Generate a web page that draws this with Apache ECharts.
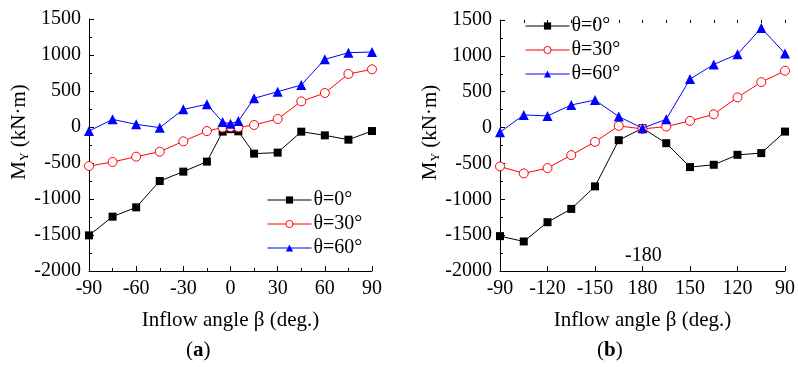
<!DOCTYPE html>
<html><head><meta charset="utf-8">
<script src="https://cdn.jsdelivr.net/npm/echarts@6/dist/echarts.min.js"></script>
<style>html,body{margin:0;padding:0;background:#fff}#c{width:798px;height:367px}</style>
</head><body><div id="c"></div>
<script>
// ---- data ----
const anglesA = [-90,-75,-60,-45,-30,-15,-5,0,5,15,30,45,60,75,90];
const a_t0  = [-1505,-1245,-1116,-750,-620,-481,-64,-30,-60,-370,-356,-65,-116,-176,-56];
const a_t30 = [-542,-486,-412,-343,-199,-56,-8,0,-5,28,111,356,472,736,801];
const a_t60 = [-56,106,37,-9,245,315,69,45,83,398,491,583,940,1032,1042];

const catsB = ['-90','-105','-120','-135','-150','-165','180','165','150','135','120','105','90'];
const b_t0  = [-1514,-1588,-1320,-1134,-820,-176,-9,-218,-551,-519,-380,-356,-56];
const b_t30 = [-542,-639,-565,-384,-199,23,-19,14,93,185,421,634,792];
const b_t60 = [-65,176,162,315,384,153,-9,116,676,880,1023,1389,1032];

const yTicksMin = -2000, yTicksMax = 1500, yStep = 500;
const names = ['θ=0°','θ=30°','θ=60°'];

// ---- styles ----
const F = "'Liberation Serif','Times New Roman',serif";
const FS = 20;
const FN = 21;
const axisLine = {show:true, onZero:false, lineStyle:{color:'#000', width:1}};
const colors = ['#000000','#ff0000','#0000ff'];

function yAxis(gridIndex){
  return {
    type:'value', gridIndex, min:yTicksMin, max:yTicksMax, interval:yStep,
    axisLine, splitLine:{show:false},
    axisTick:{show:true, inside:true, length:5, lineStyle:{color:'#000'}},
    minorTick:{show:true, splitNumber:2, length:3, lineStyle:{color:'#000'}},
    axisLabel:{color:'#000', fontFamily:F, fontSize:FS, margin:8, formatter:(v)=>String(v)},
    name:'{m|M}{s|Y}{m| (kN·m)}', nameLocation:'middle', nameGap:56, nameRotate:90,
    nameTextStyle:{color:'#000', fontFamily:F, fontSize:FN, padding:[0,0,0,26],
      rich:{m:{fontFamily:F,fontSize:FN,color:'#000'}, s:{fontFamily:F,fontSize:12,color:'#000',verticalAlign:'bottom',padding:[9,0,0,0]}}}
  };
}

function seriesSet(xIdx, yIdx, d0, d30, d60, xs){
  const mk = (arr) => xs ? arr.map((v,i)=>[xs[i], v]) : arr;
  return [
    {name:names[0], type:'line', xAxisIndex:xIdx, yAxisIndex:yIdx, data:mk(d0), symbol:'rect', symbolSize:8,
     lineStyle:{color:colors[0], width:1}, itemStyle:{color:colors[0], borderWidth:0}, z:3},
    {name:names[1], type:'line', xAxisIndex:xIdx, yAxisIndex:yIdx, data:mk(d30), symbol:'circle', symbolSize:9,
     lineStyle:{color:colors[1], width:1}, itemStyle:{color:'#fff', borderColor:colors[1], borderWidth:1}, z:4},
    {name:names[2], type:'line', xAxisIndex:xIdx, yAxisIndex:yIdx, data:mk(d60), symbol:'triangle', symbolSize:10,
     lineStyle:{color:colors[2], width:1}, itemStyle:{color:colors[2], borderWidth:0}, z:5}
  ];
}

const chart = echarts.init(document.getElementById('c'), null, {renderer:'canvas'});
const legendCommon = {
  orient:'vertical', itemWidth:44, itemHeight:9, itemGap:4,
  lineStyle:{width:1},
  itemStyle:{borderWidth:1},
  textStyle:{color:'#000', fontFamily:F, fontSize:FS, lineHeight:20, padding:[0,0,0,-3]},
  data:names
};
chart.setOption({
  animation:false,
  textStyle:{fontFamily:F},
  grid:[
    {left:89, right:426, top:19, bottom:96},
    {left:500, right:10, top:20, bottom:96}
  ],
  xAxis:[
    {type:'value', gridIndex:0, min:-90, max:90, interval:30,
     axisLine, splitLine:{show:false},
     axisTick:{show:true, inside:true, length:5, lineStyle:{color:'#000'}},
     minorTick:{show:true, splitNumber:2, length:3, lineStyle:{color:'#000'}},
     axisLabel:{color:'#000', fontFamily:F, fontSize:FS, margin:8},
     name:'Inflow angle β (deg.)', nameLocation:'middle', nameGap:39,
     nameTextStyle:{color:'#000', fontFamily:F, fontSize:FN}},
    {type:'category', gridIndex:1, data:catsB, boundaryGap:false,
     axisLine, splitLine:{show:false},
     axisTick:{show:true, inside:true, length:5, interval:1, lineStyle:{color:'#000'}},
     axisLabel:{color:'#000', fontFamily:F, fontSize:FS, margin:8, interval:1},
     name:'Inflow angle β (deg.)', nameLocation:'middle', nameGap:39,
     nameTextStyle:{color:'#000', fontFamily:F, fontSize:FN}},
    {type:'category', gridIndex:1, data:catsB, boundaryGap:false,
     axisLine:{show:false, onZero:false}, splitLine:{show:false},
     axisTick:{show:true, inside:true, length:3, interval:0, lineStyle:{color:'#000'}},
     axisLabel:{show:false}}
  ],
  yAxis:[yAxis(0), yAxis(1)],
  legend:[
    Object.assign({left:262, top:185}, legendCommon),
    Object.assign({left:520, top:11}, legendCommon)
  ],
  series:[].concat(seriesSet(0,0,a_t0,a_t30,a_t60,anglesA), seriesSet(1,1,b_t0,b_t30,b_t60,null)),
  graphic:[
    {type:'text', left:625, top:246, style:{text:'-180', font:FS+'px '+F, fill:'#000'}},
    {type:'text', left:186, top:340, style:{text:'({b|a})', font:FN+'px '+F, fill:'#000',
      rich:{b:{fontFamily:F,fontSize:FN,fontWeight:'bold',fill:'#000'}}}},
    {type:'text', left:597, top:340, style:{text:'({b|b})', font:FN+'px '+F, fill:'#000',
      rich:{b:{fontFamily:F,fontSize:FN,fontWeight:'bold',fill:'#000'}}}}
  ]
});
</script></body></html>
